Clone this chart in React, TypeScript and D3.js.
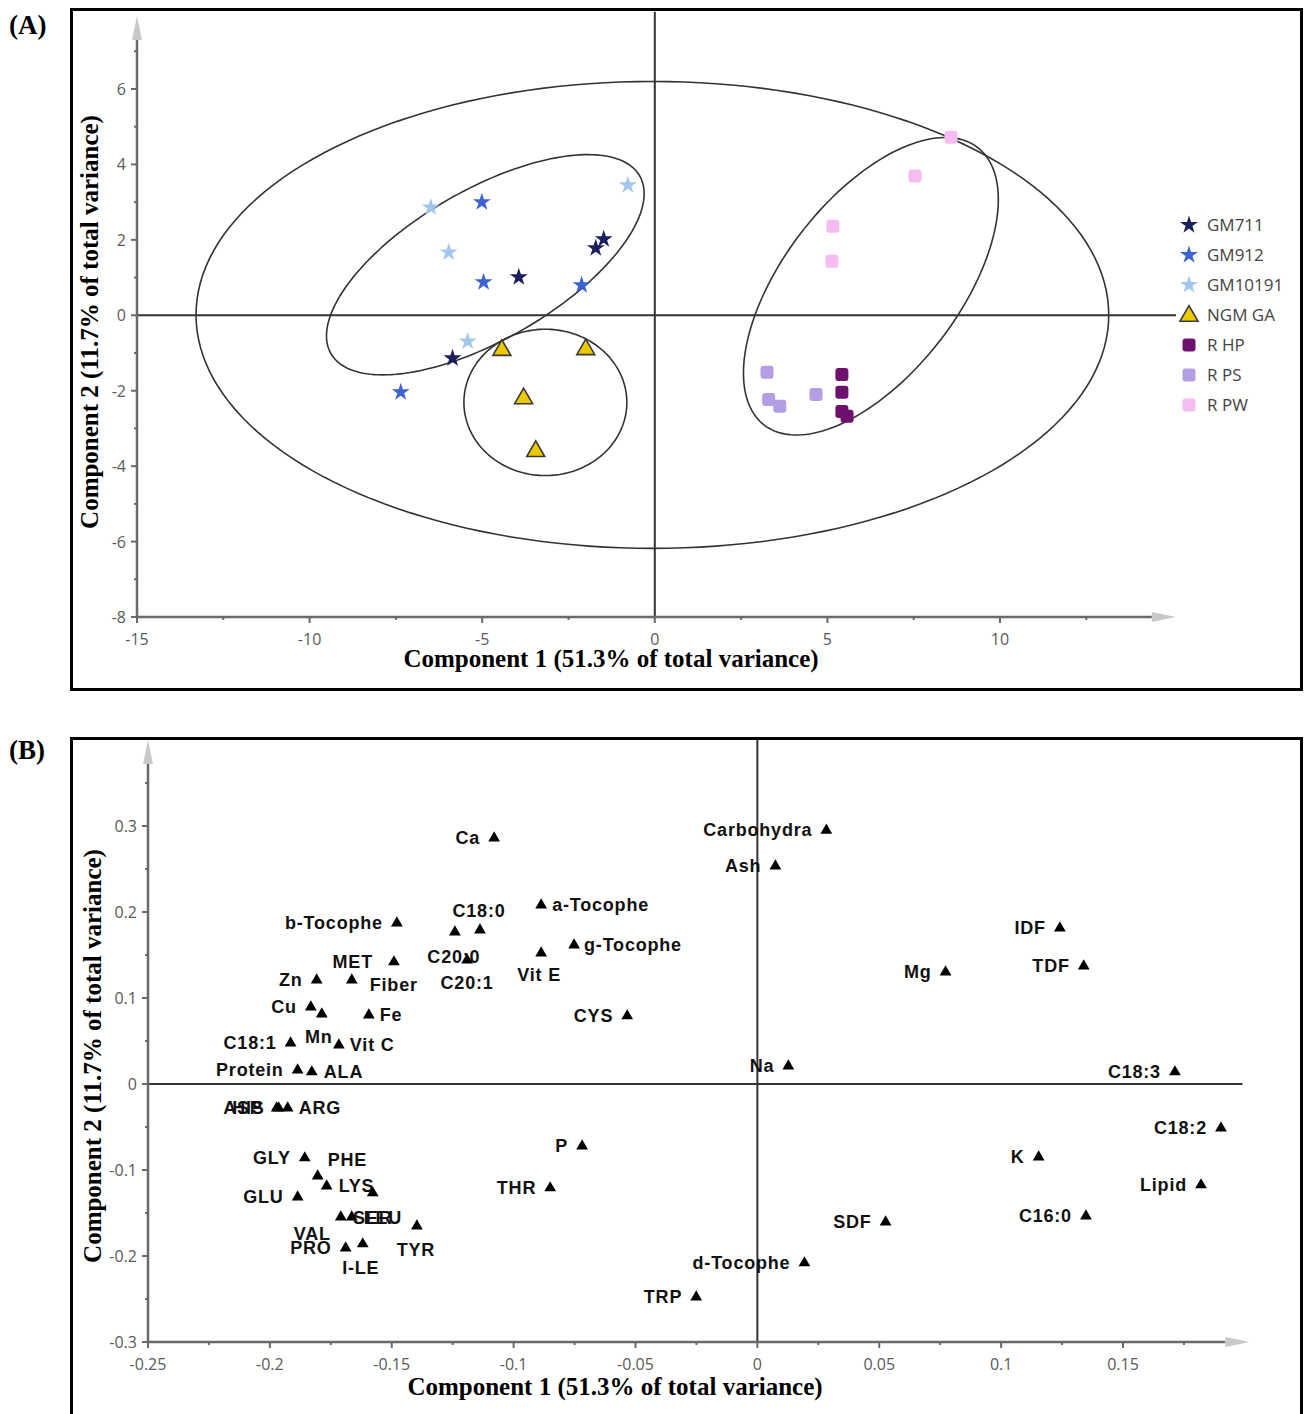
import React from "react";
import * as d3 from "d3";

// ---- panel A: sample scores ----
const groupNames = ["GM711", "GM912", "GM10191", "NGM GA", "R HP", "R PS", "R PW"];
const gm711 = [[-1.48, 2.02], [-1.71, 1.78], [-3.94, 1.01], [-5.86, -1.14]];
const gm912 = [[-5.01, 3.0], [-4.96, 0.88], [-2.12, 0.8], [-7.36, -2.04]];
const gm10191 = [[-6.49, 2.86], [-5.97, 1.67], [-0.78, 3.45], [-5.42, -0.69]];
const ngmGa = [[-4.43, -0.9], [-2.0, -0.88], [-3.8, -2.18], [-3.45, -3.58]];
const rHp = [[5.42, -1.57], [5.42, -2.04], [5.42, -2.55], [5.57, -2.68]];
const rPs = [[3.25, -1.51], [3.3, -2.23], [3.62, -2.41], [4.67, -2.1]];
const rPw = [[8.58, 4.72], [7.54, 3.69], [5.16, 2.36], [5.13, 1.43]];
const groupPoints = [gm711, gm912, gm10191, ngmGa, rHp, rPs, rPw];
const groupColors = ["#1c1f5c", "#3d63d1", "#a3c6ec", "#ecc800", "#6e106e", "#b39de3", "#f4bcf0"];
const groupShapes = ["star", "star", "star", "triangle", "square", "square", "square"];

// confidence ellipses: centre + two semi-axis vectors (data units)
const ellipses = [
  { cx: -0.07, cy: 0.01, ax: 13.22, ay: 0, bx: 0, by: 6.19 },
  { cx: -4.91, cy: 1.34, ax: 4.47, ay: 2.36, bx: 1.09, by: -1.72 },
  { cx: -3.17, cy: -2.31, ax: 2.36, ay: 0, bx: 0, by: 1.94 },
  { cx: 6.26, cy: 0.77, ax: 3.09, ay: 3.68, bx: 2.02, by: -1.42 },
];

const xTicksA = [-15, -10, -5, 0, 5, 10];
const xMinorA = [-12.5, -7.5, -2.5, 2.5, 7.5, 12.5];
const yTicksA = [-8, -6, -4, -2, 0, 2, 4, 6];
const yMinorA = [-7, -5, -3, -1, 1, 3, 5, 7];

// ---- panel B: variable loadings ----
const varNames = [
  "Ca", "Carbohydra", "Ash", "b-Tocophe", "C18:0", "C20:0", "C20:1", "a-Tocophe", "g-Tocophe", "Vit E",
  "CYS", "MET", "Zn", "Fiber", "Cu", "Mn", "Fe", "C18:1", "Vit C", "Protein", "ALA", "ASP", "HIS", "ARG",
  "GLY", "PHE", "LYS", "GLU", "SER", "VAL", "LEU", "PRO", "I-LE", "TYR", "P", "THR", "TRP", "d-Tocophe",
  "SDF", "C16:0", "K", "Lipid", "C18:2", "C18:3", "Na", "Mg", "IDF", "TDF",
];
const loadX = [
  -0.108, 0.0283, 0.0074, -0.1479, -0.1138, -0.1241, -0.1191, -0.0887, -0.0752, -0.0887,
  -0.0534, -0.1491, -0.1808, -0.1664, -0.1832, -0.1787, -0.1594, -0.1915, -0.1717, -0.1886, -0.1828, -0.1972, -0.1964, -0.1927,
  -0.1857, -0.1804, -0.1767, -0.1886, -0.1578, -0.1709, -0.1664, -0.1689, -0.1619, -0.1397, -0.0719, -0.085, -0.0251, 0.0193,
  0.0526, 0.1348, 0.1154, 0.182, 0.1902, 0.1713, 0.0127, 0.0772, 0.1241, 0.1339,
];
const loadY = [
  0.286, 0.295, 0.2535, 0.1872, 0.179, 0.1767, 0.1442, 0.2081, 0.1616, 0.1523,
  0.0791, 0.1419, 0.1209, 0.1209, 0.0895, 0.0814, 0.0802, 0.0477, 0.0453, 0.0163, 0.014, -0.0279, -0.0279, -0.0279,
  -0.086, -0.107, -0.1186, -0.1314, -0.1267, -0.1547, -0.1547, -0.1907, -0.186, -0.1651, -0.0721, -0.1209, -0.2477, -0.2081,
  -0.1605, -0.1535, -0.0849, -0.1174, -0.0512, 0.014, 0.0209, 0.1302, 0.1814, 0.1372,
];

const xTicksB = [-0.25, -0.2, -0.15, -0.1, -0.05, 0, 0.05, 0.1, 0.15];
const xMinorB = [-0.225, -0.175, -0.125, -0.075, -0.025, 0.025, 0.075, 0.125, 0.175];
const yTicksB = [-0.3, -0.2, -0.1, 0, 0.1, 0.2, 0.3];
const yMinorB = [-0.25, -0.15, -0.05, 0.05, 0.15, 0.25, 0.35];

// label placement around a point: [dx, dy(baseline), anchor]
const labelPlace: Record<string, [number, number, string]> = {
  "a-Tocophe": [11, 6, "start"],
  "g-Tocophe": [10, 6, "start"],
  Fe: [11, 6, "start"],
  "Vit C": [11, 6, "start"],
  ALA: [12, 6, "start"],
  ARG: [11, 6, "start"],
  LYS: [12, 6, "start"],
  LEU: [12, 7, "start"],
  PHE: [10, -10, "start"],
  Fiber: [18, 11, "start"],
  "C18:0": [-1, -13, "middle"],
  "C20:0": [-1, 31, "middle"],
  "C20:1": [0, 29, "middle"],
  "Vit E": [-2, 28, "middle"],
  Mn: [-3, 29, "middle"],
  SER: [0, 31, "middle"],
  "I-LE": [-2, 30, "middle"],
  TYR: [-1, 30, "middle"],
  VAL: [-10, 23, "end"],
  MET: [-21, 6, "end"],
};

const sans = "'Open Sans', 'Noto Sans', sans-serif";
const serif = "'Liberation Serif', 'Times New Roman', serif";

function Axes({ x, y, xTicks, xMinor, yTicks, yMinor, xMax, yMax }: any) {
  const x0 = x.range()[0];
  const y0 = y.range()[0];
  const xe = x(xMax);
  const ye = y(yMax);
  const axisColor = "#6a6a6a";
  return (
    <g>
      <line x1={x0} x2={xe} y1={y0} y2={y0} stroke={axisColor} strokeWidth={2.5} />
      <line x1={x0} x2={x0} y1={y0} y2={ye} stroke={axisColor} strokeWidth={2.5} />
      <path d={`M${xe},${y0 - 5}L${xe + 24},${y0}L${xe},${y0 + 5}Z`} fill="#c8c8c8" />
      <path d={`M${x0 - 5},${ye}L${x0},${ye - 24}L${x0 + 5},${ye}Z`} fill="#c8c8c8" />
      {xTicks.map((t: number) => (
        <g key={"xt" + t}>
          <line x1={x(t)} x2={x(t)} y1={y0} y2={y0 + 6} stroke={axisColor} strokeWidth={2} />
          <text x={x(t)} y={y0 + 28} textAnchor="middle" fontFamily={sans} fontSize={16} fill="#5a5a5a">
            {t}
          </text>
        </g>
      ))}
      {xMinor.map((t: number) => (
        <line key={"xm" + t} x1={x(t)} x2={x(t)} y1={y0} y2={y0 + 3} stroke={axisColor} strokeWidth={2} />
      ))}
      {yTicks.map((t: number) => (
        <g key={"yt" + t}>
          <line x1={x0 - 6} x2={x0} y1={y(t)} y2={y(t)} stroke={axisColor} strokeWidth={2} />
          <text x={x0 - 11} y={y(t) + 6} textAnchor="end" fontFamily={sans} fontSize={16} fill="#5a5a5a">
            {t}
          </text>
        </g>
      ))}
      {yMinor.map((t: number) => (
        <line key={"ym" + t} x1={x0 - 3} x2={x0} y1={y(t)} y2={y(t)} stroke={axisColor} strokeWidth={2} />
      ))}
    </g>
  );
}

function Marker({ shape, color, cx, cy }: any) {
  if (shape === "star") {
    const d = d3.symbol(d3.symbolStar, 100)() as string;
    return <path d={d} transform={`translate(${cx},${cy})`} fill={color} />;
  }
  if (shape === "triangle") {
    const d = d3.symbol(d3.symbolTriangle, 140)() as string;
    return <path d={d} transform={`translate(${cx},${cy + 1})`} fill={color} stroke="#3a3a3a" strokeWidth={1.6} />;
  }
  return <rect x={cx - 6.5} y={cy - 6.5} width={13} height={13} rx={3} fill={color} />;
}

export default function App() {
  // panel A scales
  const xA = d3.scaleLinear().domain([-15, 10]).range([137, 1000]);
  const yA = d3.scaleLinear().domain([-8, 6]).range([617, 89]);
  // panel B scales
  const xB = d3.scaleLinear().domain([-0.25, 0.15]).range([148, 1123]);
  const yB = d3.scaleLinear().domain([-0.3, 0.3]).range([1342, 826]);

  const angles = d3.range(0, 2 * Math.PI, Math.PI / 90);
  const ellipsePath = (e: any) =>
    d3
      .line<number>()
      .x((t) => xA(e.cx + e.ax * Math.cos(t) + e.bx * Math.sin(t)))
      .y((t) => yA(e.cy + e.ay * Math.cos(t) + e.by * Math.sin(t)))
      .curve(d3.curveLinearClosed)(angles) as string;

  const tri = d3.symbol(d3.symbolTriangle, 60)() as string;

  return (
    <svg width={1304} height={1414} style={{ position: "absolute", left: 0, top: 0, background: "#fff" }}>
      <rect width={1304} height={1414} fill="#fff" />

      {/* ---------- Panel A ---------- */}
      <text x={9} y={34} fontFamily={serif} fontWeight="bold" fontSize={27}>(A)</text>
      <rect x={71.5} y={9.5} width={1230} height={680} fill="none" stroke="#000" strokeWidth={3} />

      <line x1={xA(0)} x2={xA(0)} y1={yA(-8)} y2={yA(8.05)} stroke="#333" strokeWidth={2} />
      <line x1={xA(-15)} x2={xA(15.1)} y1={yA(0)} y2={yA(0)} stroke="#333" strokeWidth={2} />
      <Axes x={xA} y={yA} xTicks={xTicksA} xMinor={xMinorA} yTicks={yTicksA} yMinor={yMinorA} xMax={14.4} yMax={7.3} />

      {ellipses.map((e, i) => (
        <path key={"el" + i} d={ellipsePath(e)} fill="none" stroke="#333" strokeWidth={1.6} />
      ))}

      {groupPoints.map((pts, gi) =>
        pts.map((p, i) => (
          <Marker key={gi + "-" + i} shape={groupShapes[gi]} color={groupColors[gi]} cx={xA(p[0])} cy={yA(p[1])} />
        ))
      )}

      {groupNames.map((name, i) => (
        <g key={name} transform={`translate(1189,${225 + i * 30})`}>
          <Marker shape={groupShapes[i]} color={groupColors[i]} cx={0} cy={0} />
          <text x={18} y={6} fontFamily={sans} fontSize={17} fill="#444">
            {name}
          </text>
        </g>
      ))}

      <text x={611} y={667} textAnchor="middle" fontFamily={serif} fontWeight="bold" fontSize={25}>
        Component 1 (51.3% of total variance)
      </text>
      <text transform={`translate(98,322) rotate(-90)`} textAnchor="middle" fontFamily={serif} fontWeight="bold" fontSize={25}>
        Component 2 (11.7% of total variance)
      </text>

      {/* ---------- Panel B ---------- */}
      <text x={9} y={759} fontFamily={serif} fontWeight="bold" fontSize={27}>(B)</text>
      <rect x={71.5} y={738.5} width={1230} height={690} fill="none" stroke="#000" strokeWidth={3} />

      <line x1={xB(0)} x2={xB(0)} y1={yB(-0.3)} y2={yB(0.4)} stroke="#333" strokeWidth={2} />
      <line x1={xB(-0.25)} x2={xB(0.199)} y1={yB(0)} y2={yB(0)} stroke="#333" strokeWidth={2} />
      <Axes x={xB} y={yB} xTicks={xTicksB} xMinor={xMinorB} yTicks={yTicksB} yMinor={yMinorB} xMax={0.192} yMax={0.372} />

      {varNames.map((name, i) => {
        const px = xB(loadX[i]);
        const py = yB(loadY[i]);
        const [dx, dy, anchor] = labelPlace[name] || [-14, 6, "end"];
        return (
          <g key={name}>
            <path d={tri} transform={`translate(${px},${py})`} fill="#000" />
            <text
              x={px + dx}
              y={py + dy}
              textAnchor={anchor as any}
              fontFamily="'Liberation Sans', Arial, sans-serif"
              fontWeight="bold"
              fontSize={18}
              letterSpacing={0.8}
              fill="#111"
            >
              {name}
            </text>
          </g>
        );
      })}

      <text x={615} y={1395} textAnchor="middle" fontFamily={serif} fontWeight="bold" fontSize={25}>
        Component 1 (51.3% of total variance)
      </text>
      <text transform={`translate(101,1056) rotate(-90)`} textAnchor="middle" fontFamily={serif} fontWeight="bold" fontSize={25}>
        Component 2 (11.7% of total variance)
      </text>
    </svg>
  );
}
